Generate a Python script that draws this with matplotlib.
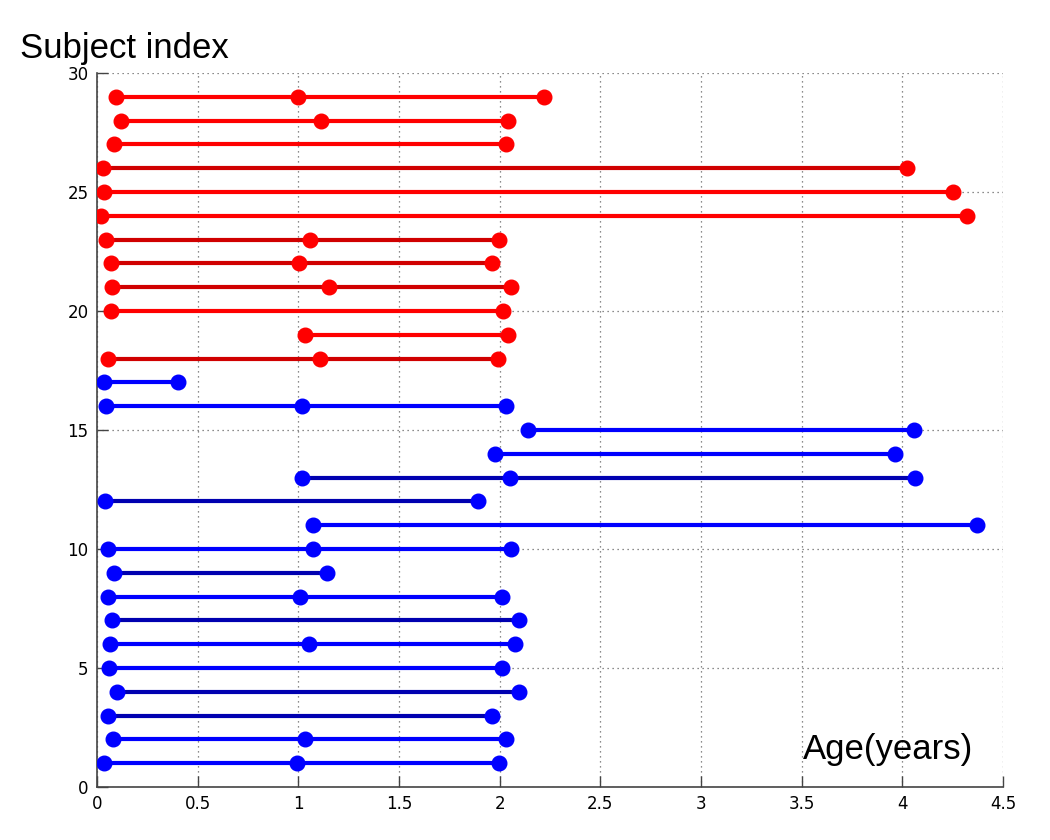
import matplotlib.pyplot as plt

# visit ages (years) per subject, index 1..29
ages = [
    [0.035, 0.995, 1.995],   # 1
    [0.08, 1.035, 2.03],     # 2
    [0.055, 1.96],           # 3
    [0.10, 2.095],           # 4
    [0.06, 2.01],            # 5
    [0.065, 1.055, 2.075],   # 6
    [0.075, 2.095],          # 7
    [0.055, 1.01, 2.01],     # 8
    [0.085, 1.14],           # 9
    [0.055, 1.075, 2.055],   # 10
    [1.075, 4.37],           # 11
    [0.04, 1.89],            # 12
    [1.02, 2.05, 4.06],      # 13
    [1.975, 3.965],          # 14
    [2.14, 4.055],           # 15
    [0.045, 1.02, 2.03],     # 16
    [0.035, 0.40],           # 17
    [0.055, 1.105, 1.99],    # 18
    [1.035, 2.04],           # 19
    [0.07, 2.015],           # 20
    [0.075, 1.15, 2.055],    # 21
    [0.07, 1.005, 1.96],     # 22
    [0.045, 1.06, 1.995],    # 23
    [0.02, 4.32],            # 24
    [0.035, 4.25],           # 25
    [0.03, 4.02],            # 26
    [0.085, 2.03],           # 27
    [0.12, 1.11, 2.04],      # 28
    [0.095, 1.0, 2.22],      # 29
]
# group: 0 = blue (subjects 1-17), 1 = red (18-29)
group = [0] * 17 + [1] * 12
# some rows show a darker line in the scan
dark_rows = [3, 4, 7, 9, 12, 13, 18, 21, 22, 23, 26]

fig = plt.figure(figsize=(10.5, 8.4), dpi=100)
ax = fig.add_axes([0.0924, 0.063, 0.863, 0.850])

for i, a in enumerate(ages):
    idx = i + 1
    if group[i] == 1:
        mc = '#ff0000'
        lc = '#d00000' if idx in dark_rows else '#ff0000'
    else:
        mc = '#0000ff'
        lc = '#0000b0' if idx in dark_rows else '#0000ff'
    ax.plot(a, [idx] * len(a), '-', color=lc, lw=3, solid_capstyle='butt', zorder=3)
    ax.plot(a, [idx] * len(a), 'o', color=mc, ms=10.5, mec=mc, zorder=4)

ax.set_xlim(0, 4.5)
ax.set_ylim(0, 30)
ax.set_xticks([0, 0.5, 1, 1.5, 2, 2.5, 3, 3.5, 4, 4.5])
ax.set_xticklabels(['0', '0.5', '1', '1.5', '2', '2.5', '3', '3.5', '4', '4.5'])
ax.set_yticks([0, 5, 10, 15, 20, 25, 30])
ax.grid(True, linestyle=(0, (1, 3)), color='#666666', lw=0.9)
ax.set_axisbelow(True)
for s in ['top', 'right']:
    ax.spines[s].set_visible(False)
for s in ['left', 'bottom']:
    ax.spines[s].set_color('#444444')
    ax.spines[s].set_linewidth(1.2)
ax.tick_params(direction='in', length=8, width=1, colors='#444444',
               labelcolor='black', labelsize=12, pad=6)
for lab in ax.get_xticklabels() + ax.get_yticklabels():
    lab.set_family('DejaVu Sans')

fig.text(0.019, 0.942, 'Subject index', fontsize=25, family='Liberation Sans',
         ha='left', va='center')
ax.text(0.967, 0.040, 'Age(years)', transform=ax.transAxes, fontsize=25,
        family='Liberation Sans', ha='right', va='baseline')

fig.savefig('out.png', dpi=100)
